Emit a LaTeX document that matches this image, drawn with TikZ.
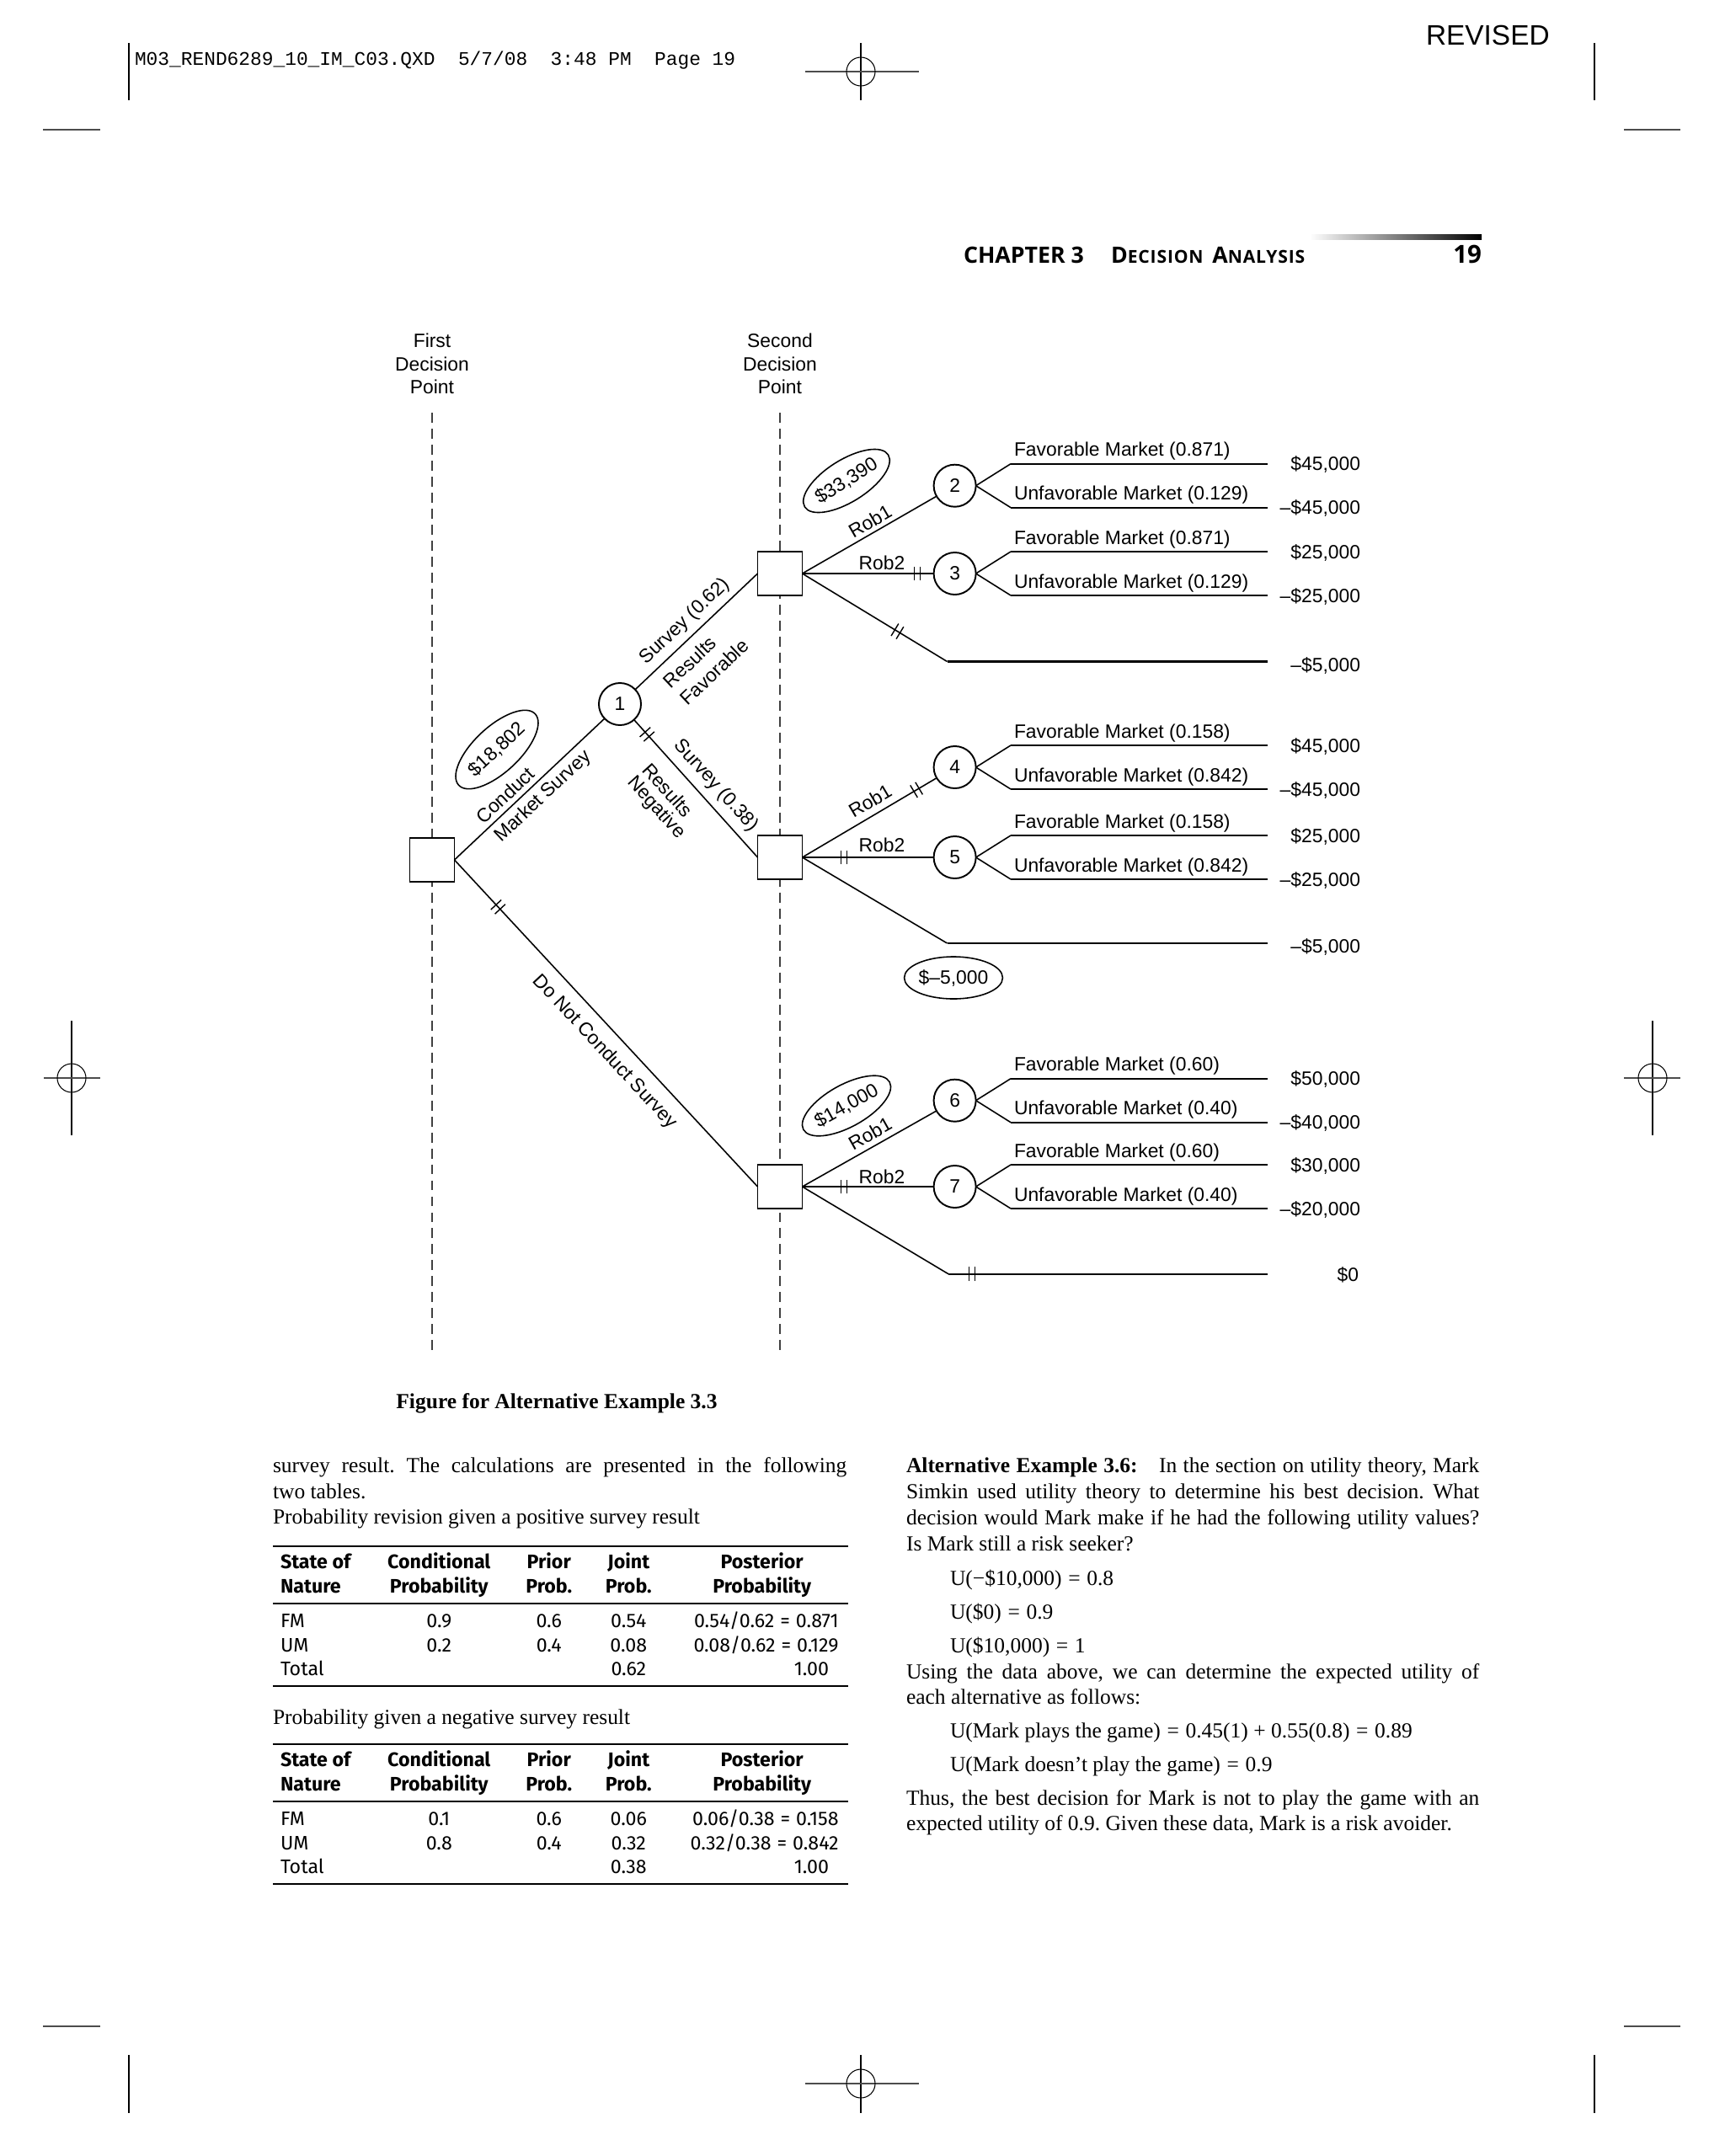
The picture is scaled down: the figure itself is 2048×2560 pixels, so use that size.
\documentclass[tikz,border=0pt]{standalone}
\usepackage{fontspec}
\setmainfont{Liberation Serif}
\newfontfamily\arialf{Liberation Sans}
\newfontfamily\monof{Liberation Mono}
\newfontfamily\frut{Fira Sans}
\newfontfamily\hdf{Open Sans}
\usetikzlibrary{shapes.geometric,decorations.markings,calc}
\newcommand\myeq{\hspace{0.3em}=\hspace{0.3em}}
\newcommand\myplus{\hspace{0.25em}+\hspace{0.25em}}
\tikzset{
  every node/.style={inner sep=0pt,outer sep=0pt},
  trt/.style={font=\arialf\fontsize{6.5pt}{7.8pt}\selectfont},
  brl/.style={line width=0.45pt},
  hln/.style={line width=0.6pt},
  dsq/.style={draw,line width=0.55pt,fill=white,rectangle,minimum width=0.53cm,minimum height=0.52cm},
  chn/.style={draw,line width=0.55pt,fill=white,circle,minimum size=0.5cm,trt},
  ell/.style={draw,line width=0.45pt,ellipse,trt},
  vguide/.style={line width=0.5pt,dash pattern=on 3.4pt off 2pt,black!75},
  dtick/.style={postaction={decorate,decoration={markings,mark=at position #1 with {\draw[line width=0.4pt] (-1pt,-2.4pt)--(-1pt,2.4pt) (1pt,-2.4pt)--(1pt,2.4pt);}}}},
  regl/.style={line width=0.3pt},
  reghl/.style={line width=0.7pt,black!70},
  bodyt/.style={font=\fontsize{7.25pt}{8.8pt}\selectfont\frenchspacing,anchor=base west},
  tabt/.style={font=\frut\fontsize{6.6pt}{8pt}\selectfont},
  tabht/.style={font=\frut\bfseries\fontsize{6.6pt}{8pt}\selectfont},
  tabrule/.style={line width=0.6pt}
}
\newcommand\myoutc[6]{%
  \coordinate (#1fa) at (1200,#2-26);
  \coordinate (#1fb) at (1505,#2-26);
  \coordinate (#1ua) at (1200,#2+26);
  \coordinate (#1ub) at (1505,#2+26);
  \draw[brl] (#1.east) -- (#1fa);
  \draw[hln] (#1fa) -- (#1fb);
  \draw[brl] (#1.east) -- (#1ua);
  \draw[hln] (#1ua) -- (#1ub);
  \node[trt,anchor=base west] (#1ft) at (1204,#2-35) {#3};
  \node[trt,anchor=base west] (#1ut) at (1204,#2+17) {#4};
  \node[trt,anchor=base east] (#1fv) at (1615,#2-18) {#5};
  \node[trt,anchor=base east] (#1uv) at (1615,#2+34) {#6};
}
\newcommand\mytable[9]{%
  \draw[tabrule] (324,1835.7+#2) -- (1007,1835.7+#2);
  \draw[tabrule] (324,1904+#2) -- (1007,1904+#2);
  \draw[tabrule] (324,2002+#2) -- (1007,2002+#2);
  \node[tabht,anchor=base west] (#1h1) at (333,1862.5+#2) {State of};
  \node[tabht,anchor=base] (#1h2) at (521.3,1862.5+#2) {Conditional};
  \node[tabht,anchor=base] (#1h3) at (651.7,1862.5+#2) {Prior};
  \node[tabht,anchor=base] (#1h4) at (746.3,1862.5+#2) {Joint};
  \node[tabht,anchor=base] (#1h5) at (904.7,1862.5+#2) {Posterior};
  \node[tabht,anchor=base west] (#1i1) at (333,1891+#2) {Nature};
  \node[tabht,anchor=base] (#1i2) at (521.3,1891+#2) {Probability};
  \node[tabht,anchor=base] (#1i3) at (651.7,1891+#2) {Prob.};
  \node[tabht,anchor=base] (#1i4) at (746.3,1891+#2) {Prob.};
  \node[tabht,anchor=base] (#1i5) at (904.7,1891+#2) {Probability};
  \node[tabt,anchor=base west] (#1a1) at (333,1932.5+#2) {FM};
  \node[tabt,anchor=base] (#1a2) at (521.3,1932.5+#2) {#3};
  \node[tabt,anchor=base] (#1a3) at (651.7,1932.5+#2) {0.6};
  \node[tabt,anchor=base] (#1a4) at (746.3,1932.5+#2) {#5};
  \node[tabt,anchor=base east] (#1a5) at (995.6,1932.5+#2) {#8};
  \node[tabt,anchor=base west] (#1b1) at (333,1961+#2) {UM};
  \node[tabt,anchor=base] (#1b2) at (521.3,1961+#2) {#4};
  \node[tabt,anchor=base] (#1b3) at (651.7,1961+#2) {0.4};
  \node[tabt,anchor=base] (#1b4) at (746.3,1961+#2) {#6};
  \node[tabt,anchor=base east] (#1b5) at (995.6,1961+#2) {#9};
  \node[tabt,anchor=base west] (#1c1) at (333,1989.5+#2) {Total};
  \node[tabt,anchor=base] (#1c4) at (746.3,1989.5+#2) {#7};
  \node[tabt,anchor=base east] (#1c5) at (984,1989.5+#2) {1.00};
}
\begin{document}
\begin{tikzpicture}[x=0.01cm,y=-0.01cm]
\useasboundingbox[fill=white] (0,0) rectangle (2048,2560);

% ---------- printer's marks ----------
\draw[regl] (153,51) -- (153,119);
\draw[regl] (1893,51) -- (1893,119);
\draw[regl] (1022,51) -- (1022,119);
\draw[reghl] (956,85) -- (1091,85);
\draw[regl] (1022,85) circle[radius=0.17cm];
\draw[reghl] (51,154) -- (119,154);
\draw[reghl] (1928,154) -- (1995,154);
\draw[regl] (85,1212) -- (85,1348);
\draw[reghl] (52,1280) -- (119,1280);
\draw[regl] (85,1280) circle[radius=0.17cm];
\draw[regl] (1962,1212) -- (1962,1348);
\draw[reghl] (1928,1280) -- (1995,1280);
\draw[regl] (1962,1280) circle[radius=0.17cm];
\draw[reghl] (51,2406) -- (119,2406);
\draw[reghl] (1928,2406) -- (1995,2406);
\draw[regl] (153,2440) -- (153,2509);
\draw[regl] (1893,2440) -- (1893,2509);
\draw[regl] (1022,2440) -- (1022,2509);
\draw[reghl] (956,2474) -- (1091,2474);
\draw[regl] (1022,2474) circle[radius=0.17cm];

\node[font=\monof\fontsize{6.5pt}{7pt}\selectfont,anchor=base west] (slug) at (160,77)
  {M03\_REND6289\_10\_IM\_C03.QXD\ \ 5/7/08\ \ 3:48 PM\ \ Page 19};
\node[font=\arialf\fontsize{9.5pt}{10pt}\selectfont,anchor=base west] (rev) at (1693,53) {REVISED};

% ---------- running head ----------
\shade[left color=white,right color=black] (1555,278) rectangle (1759,284);
\node[font=\hdf\bfseries\fontsize{7.6pt}{9pt}\selectfont,anchor=base west] (chp) at (1144,312) {CHAPTER 3};
\node[font=\hdf\bfseries\fontsize{7.6pt}{9pt}\selectfont,anchor=base west] (chn) at (1319,312)
  {\addfontfeature{LetterSpace=4}D{\fontsize{6pt}{7pt}\selectfont ECISION}\hspace{0.1em} A{\fontsize{6pt}{7pt}\selectfont NALYSIS}};
\node[font=\hdf\bfseries\fontsize{8.4pt}{9pt}\selectfont,anchor=base east] (pg) at (1759,312) {19};

% ---------- decision tree ----------
\node[trt,align=center] (fdp) at (513,432) {First\\Decision\\Point};
\node[trt,align=center] (sdp) at (926,432) {Second\\Decision\\Point};
\coordinate (g1a) at (513,490); \coordinate (g1b) at (513,1609);
\coordinate (g2a) at (926,490); \coordinate (g2b) at (926,1609);
\draw[vguide] (g1a) -- (g1b);
\draw[vguide] (g2a) -- (g2b);

\node[dsq] (sq1) at (513,1021) {};
\node[dsq] (sq2a) at (926,681) {};
\node[dsq] (sq2b) at (926,1018) {};
\node[dsq] (sq2c) at (926,1409) {};
\node[chn] (n1) at (736,836) {1};
\node[chn] (n2) at (1133.6,576.7) {2};
\node[chn] (n3) at (1133.6,681) {3};
\node[chn] (n4) at (1133.6,911) {4};
\node[chn] (n5) at (1133.6,1018) {5};
\node[chn] (n6) at (1133.6,1306.7) {6};
\node[chn] (n7) at (1133.6,1409) {7};

\draw[brl] (sq1.east) -- (n1);
\draw[brl,dtick=0.144] (sq1.east) -- (sq2c.west);
\draw[brl] (n1) -- (sq2a.west);
\draw[brl,dtick=0.106] (n1) -- (sq2b.west);

\draw[brl] (sq2a.east) -- (n2);
\draw[brl,dtick=0.875] (sq2a.east) -- (n3);
\coordinate (ta) at (1124.5,785.5); \coordinate (tb) at (1505,785.5);
\draw[brl,dtick=0.657] (sq2a.east) -- (ta);
\draw[hln] (ta) -- (tb);

\draw[brl,dtick=0.85] (sq2b.east) -- (n4);
\draw[brl,dtick=0.317] (sq2b.east) -- (n5);
\coordinate (ma) at (1124.5,1120); \coordinate (mb) at (1505,1120);
\draw[brl] (sq2b.east) -- (ma);
\draw[hln] (ma) -- (mb);

\draw[brl] (sq2c.east) -- (n6);
\draw[brl,dtick=0.317] (sq2c.east) -- (n7);
\coordinate (ba) at (1126,1512.7); \coordinate (bb) at (1505,1512.7);
\draw[brl] (sq2c.east) -- (ba);
\draw[hln,dtick=0.074] (ba) -- (bb);

\myoutc{n2}{576.7}{Favorable Market (0.871)}{Unfavorable Market (0.129)}{\$45,000}{–\$45,000}
\myoutc{n3}{681}{Favorable Market (0.871)}{Unfavorable Market (0.129)}{\$25,000}{–\$25,000}
\myoutc{n4}{911}{Favorable Market (0.158)}{Unfavorable Market (0.842)}{\$45,000}{–\$45,000}
\myoutc{n5}{1018}{Favorable Market (0.158)}{Unfavorable Market (0.842)}{\$25,000}{–\$25,000}
\myoutc{n6}{1306.7}{Favorable Market (0.60)}{Unfavorable Market (0.40)}{\$50,000}{–\$40,000}
\myoutc{n7}{1409}{Favorable Market (0.60)}{Unfavorable Market (0.40)}{\$30,000}{–\$20,000}

\node[trt,anchor=base east] (tv) at (1615,797) {–\$5,000};
\node[trt,anchor=base east] (mv) at (1615,1131) {–\$5,000};
\node[trt,anchor=base east] (bv) at (1613,1521) {\$0};

% branch labels
\node[ell,rotate=43,minimum width=1.24cm,minimum height=0.54cm] (ev1) at (590,890) {\$18,802};
\node[trt,rotate=43.2] (l1) at (600,944) {Conduct};
\node[trt,rotate=43.2] (l2) at (645,946) {Market Survey};
\node[trt,rotate=43.4] (l3) at (813,738) {Survey (0.62)};
\node[trt,rotate=43.4] (l4) at (819,786) {Results};
\node[trt,rotate=43.4] (l5) at (848,798) {Favorable};
\node[trt,rotate=-48] (l6) at (850,933) {Survey (0.38)};
\node[trt,rotate=-48] (l7) at (793,938) {Results};
\node[trt,rotate=-48] (l8) at (779,959) {Negative};
\node[trt,rotate=-47.1] (l9) at (718,1249) {Do Not Conduct Survey};

\node[ell,rotate=32,minimum width=1.14cm,minimum height=0.5cm] (ev2) at (1005,571) {\$33,390};
\node[ell,rotate=29,minimum width=1.14cm,minimum height=0.5cm] (ev4) at (1005,1313) {\$14,000};
\node[ell,minimum width=1.12cm,minimum height=0.5cm] (ev3) at (1132,1161) {\$–5,000};

\node[trt,rotate=30] (r1a) at (1033,619) {Rob1};
\node[trt] (r2a) at (1047,668) {Rob2};
\node[trt,rotate=30.5] (r1b) at (1033,951) {Rob1};
\node[trt] (r2b) at (1047,1003) {Rob2};
\node[trt,rotate=29.4] (r1c) at (1033,1346) {Rob1};
\node[trt] (r2c) at (1047,1397) {Rob2};

% ---------- caption and text ----------
\node[font=\bfseries\fontsize{7.25pt}{8.8pt}\selectfont,anchor=base] (cap) at (661,1672) {Figure for Alternative Example 3.3};

\node[bodyt] (p1) at (324,1748) {\makebox[6.81cm][s]{survey result. The calculations are presented in the following}};
\node[bodyt] (p2) at (324,1779) {two tables.};
\node[bodyt] (p3) at (324,1809) {Probability revision given a positive survey result};
\node[bodyt] (p4) at (324,2047) {Probability given a negative survey result};

\mytable{ta}{0}{0.9}{0.2}{0.54}{0.08}{0.62}{0.54/0.62\myeq 0.871}{0.08/0.62\myeq 0.129}
\mytable{tb}{235}{0.1}{0.8}{0.06}{0.32}{0.38}{0.06/0.38\myeq 0.158}{0.32/0.38\myeq 0.842}

\node[bodyt] (q1) at (1076,1748) {\makebox[6.8cm][s]{\textbf{Alternative Example 3.6:}\quad In the section on utility theory, Mark}};
\node[bodyt] (q2) at (1076,1779) {\makebox[6.8cm][s]{Simkin used utility theory to determine his best decision. What}};
\node[bodyt] (q3) at (1076,1810) {\makebox[6.8cm][s]{decision would Mark make if he had the following utility values?}};
\node[bodyt] (q4) at (1076,1841) {Is Mark still a risk seeker?};
\node[bodyt] (e1) at (1128,1882) {U(−\$10,000)\myeq 0.8};
\node[bodyt] (e2) at (1128,1922) {U(\$0)\myeq 0.9};
\node[bodyt] (e3) at (1128,1962) {U(\$10,000)\myeq 1};
\node[bodyt] (q5) at (1076,1993) {\makebox[6.8cm][s]{Using the data above, we can determine the expected utility of}};
\node[bodyt] (q6) at (1076,2023) {each alternative as follows:};
\node[bodyt] (e4) at (1128,2063) {U(Mark plays the game)\myeq 0.45(1)\myplus 0.55(0.8)\myeq 0.89};
\node[bodyt] (e5) at (1128,2103) {U(Mark doesn’t play the game)\myeq 0.9};
\node[bodyt] (q7) at (1076,2143) {\makebox[6.8cm][s]{Thus, the best decision for Mark is not to play the game with an}};
\node[bodyt] (q8) at (1076,2173) {expected utility of 0.9. Given these data, Mark is a risk avoider.};
\end{tikzpicture}
\end{document}
